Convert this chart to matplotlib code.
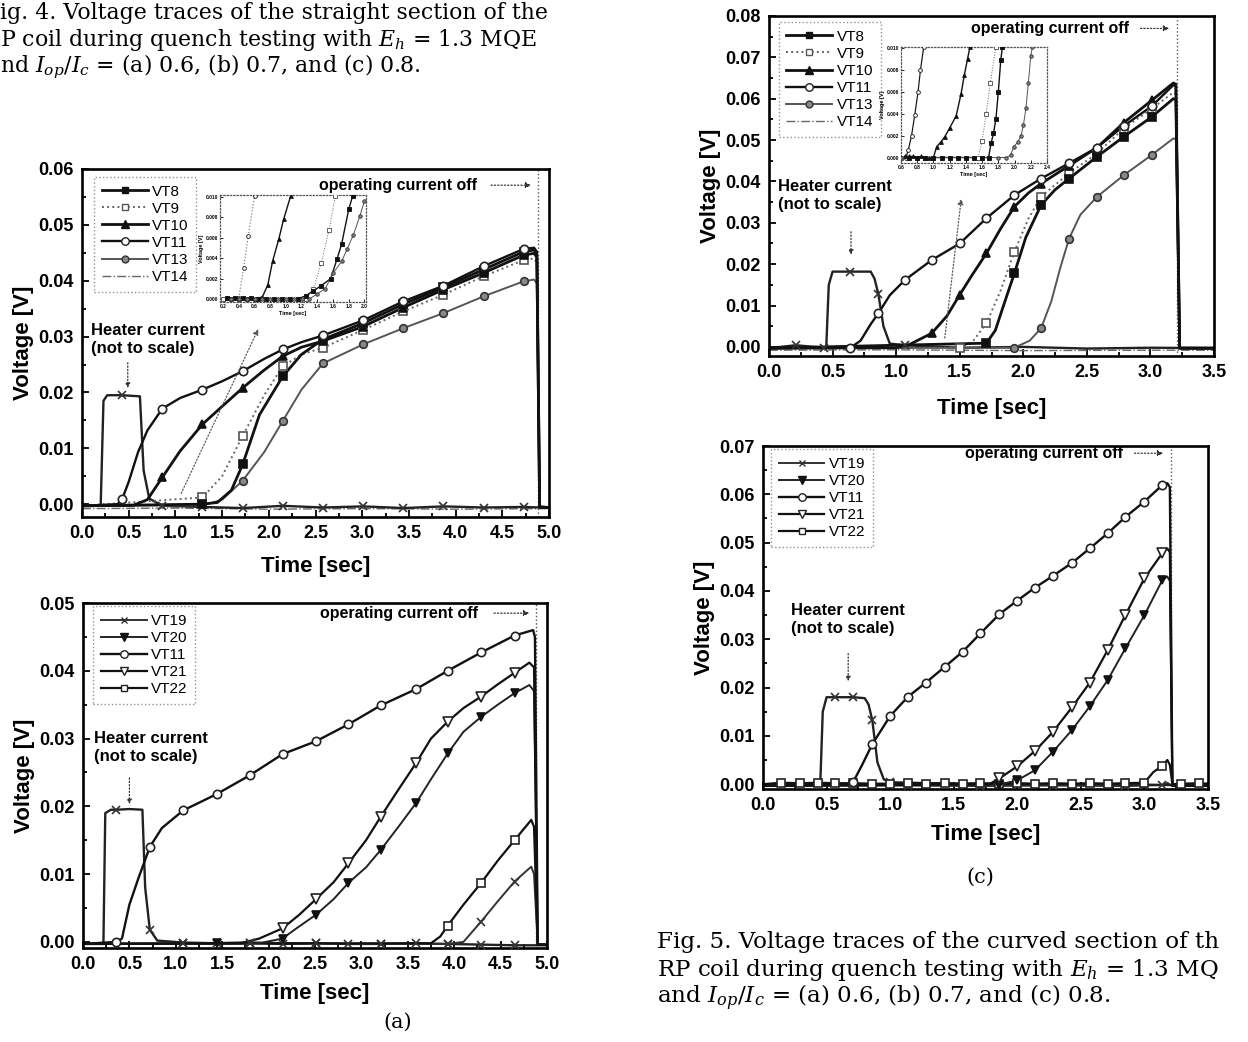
import matplotlib
matplotlib.use('Agg')
import matplotlib.pyplot as plt
from matplotlib.lines import Line2D
from matplotlib.ticker import MultipleLocator, AutoMinorLocator, FormatStrFormatter

plt.rcParams['font.family'] = 'Liberation Sans'
plt.rcParams['mathtext.fontset'] = 'dejavuserif'

W, H = 1248, 1042

# ---------------- Fig.4 top panel (0 - 5 s) ----------------
grid_a = [0.43, 0.86, 1.29, 1.72, 2.15, 2.58, 3.01, 3.44, 3.87, 4.30, 4.73]
a_vt8_t = [0, 1.29, 1.45, 1.6, 1.72, 1.9, 2.15, 2.35, 2.58, 3.01, 3.44, 3.87, 4.30, 4.73, 4.84, 4.87, 4.90, 5.0]
a_vt8_v = [-0.0003, 0.0, 0.0003, 0.0025, 0.0071, 0.016, 0.0229, 0.0268, 0.0295, 0.0324, 0.0358, 0.0388, 0.0420, 0.0452, 0.0455, 0.0448, -0.0005, -0.0006]
a_vt9_t = [0, 1.29, 1.5, 1.72, 1.95, 2.15, 2.35, 2.58, 3.01, 3.44, 3.87, 4.30, 4.73, 4.84, 4.87, 4.90, 5.0]
a_vt9_v = [-0.0003, 0.0012, 0.005, 0.0122, 0.0195, 0.0247, 0.0268, 0.028, 0.0312, 0.0345, 0.0375, 0.0408, 0.0437, 0.0440, 0.0432, -0.0005, -0.0006]
a_vt10_t = [0, 0.55, 0.7, 0.86, 1.05, 1.29, 1.5, 1.72, 1.95, 2.15, 2.35, 2.58, 3.01, 3.44, 3.87, 4.30, 4.73, 4.84, 4.87, 4.90, 5.0]
a_vt10_v = [-0.0003, -0.0002, 0.0008, 0.0048, 0.0095, 0.0143, 0.0175, 0.0208, 0.024, 0.0265, 0.0281, 0.0292, 0.0318, 0.0352, 0.0384, 0.0414, 0.0446, 0.0449, 0.0442, -0.0005, -0.0006]
a_vt11_t = [0, 0.38, 0.43, 0.5, 0.6, 0.7, 0.86, 1.05, 1.29, 1.5, 1.72, 1.95, 2.15, 2.35, 2.58, 3.01, 3.44, 3.87, 4.30, 4.73, 4.84, 4.87, 4.90, 5.0]
a_vt11_v = [-0.0003, 0.0, 0.0009, 0.004, 0.0093, 0.0132, 0.0171, 0.019, 0.0205, 0.022, 0.0238, 0.026, 0.0277, 0.029, 0.0302, 0.0329, 0.0363, 0.0391, 0.0426, 0.0457, 0.0459, 0.0452, -0.0005, -0.0006]
a_vt13_t = [0, 1.3, 1.5, 1.72, 1.95, 2.15, 2.35, 2.58, 3.01, 3.44, 3.87, 4.30, 4.73, 4.84, 4.87, 4.90, 5.0]
a_vt13_v = [-0.0003, -0.0002, 0.0008, 0.0042, 0.0093, 0.0149, 0.0205, 0.0252, 0.0286, 0.0315, 0.0342, 0.0372, 0.0399, 0.0402, 0.0395, -0.0005, -0.0006]
a_vt14_t = [0, 1.0, 2.0, 3.0, 4.0, 5.0]
a_vt14_v = [-0.0008, -0.0007, -0.0009, -0.0008, -0.0009, -0.0008]
a_heat_t = [0, 0.2, 0.23, 0.27, 0.43, 0.62, 0.66, 0.72, 0.86, 1.29, 1.72, 2.15, 2.58, 3.01, 3.44, 3.87, 4.30, 4.73, 4.9, 5.0]
a_heat_v = [-0.0003, -0.0003, 0.0185, 0.0195, 0.0195, 0.0193, 0.006, 0.001, -0.0003, -0.0005, -0.0007, -0.0003, -0.0006, -0.0004, -0.0007, -0.0004, -0.0006, -0.0005, -0.0006, -0.0006]

# inset of the top-left panel
ia_vt11_t = [0.2, 0.4, 0.46, 0.52, 0.6]
ia_vt11_v = [0.0, 0.0001, 0.003, 0.0062, 0.0101]
ia_vt10_t = [0.2, 0.3, 0.4, 0.5, 0.6, 0.7, 0.77, 0.83, 0.91, 0.97, 1.06]
ia_vt10_v = [0.0, 0.0, 0.0, 0.0, 0.0, 0.0002, 0.0014, 0.0037, 0.0059, 0.0078, 0.0101]
ia_vt9_t = [0.2, 1.25, 1.35, 1.45, 1.55, 1.63]
ia_vt9_v = [0.0, 0.0, 0.001, 0.0035, 0.0068, 0.0101]
ia_vt8_t = [0.25, 0.35, 0.45, 0.55, 0.65, 0.75, 0.85, 0.95, 1.05, 1.15, 1.25, 1.35, 1.45, 1.57, 1.65, 1.71, 1.8, 1.85]
ia_vt8_v = [0.0001, 0.0001, 0.0001, 0.0001, 0.0, 0.0, 0.0, 0.0, 0.0, 0.0, 0.0003, 0.0008, 0.0013, 0.002, 0.0039, 0.0054, 0.0088, 0.0101]
ia_vt13_t = [0.3, 0.4, 0.5, 0.6, 0.7, 0.8, 0.9, 1.0, 1.1, 1.2, 1.3, 1.4, 1.5, 1.6, 1.71, 1.78, 1.86, 1.94, 2.0]
ia_vt13_v = [0.0, 0.0, 0.0, 0.0, 0.0, 0.0, 0.0, 0.0, 0.0, 0.0, 0.0, 0.0005, 0.001, 0.0025, 0.0037, 0.0049, 0.0063, 0.0081, 0.0096]

# ---------------- Fig.4 bottom panel (a) ----------------
grid_c = [0.36, 0.72, 1.08, 1.44, 1.80, 2.15, 2.51, 2.86, 3.21, 3.59, 3.93, 4.29, 4.65]
c_vt19_t = [0, 1.08, 1.80, 2.51, 3.21, 3.93, 4.1, 4.29, 4.47, 4.65, 4.83, 4.86, 4.9, 5.0]
c_vt19_v = [-0.0003, -0.0002, -0.0001, -0.0002, -0.0003, -0.0003, 0.0, 0.003, 0.006, 0.0089, 0.0111, 0.010, -0.0004, -0.0004]
c_vt20_t = [0, 1.44, 1.9, 2.15, 2.3, 2.51, 2.7, 2.86, 3.05, 3.21, 3.4, 3.59, 3.75, 3.93, 4.1, 4.29, 4.47, 4.65, 4.81, 4.86, 4.9, 5.0]
c_vt20_v = [-0.0003, -0.0002, -0.0002, 0.0005, 0.002, 0.004, 0.0063, 0.0087, 0.011, 0.0136, 0.017, 0.0205, 0.024, 0.0278, 0.031, 0.0332, 0.035, 0.0367, 0.0379, 0.037, -0.0004, -0.0004]
c_vt11_t = [0, 0.36, 0.42, 0.5, 0.6, 0.72, 0.85, 1.08, 1.44, 1.80, 2.15, 2.51, 2.86, 3.21, 3.59, 3.93, 4.29, 4.65, 4.85, 4.87, 4.9, 5.0]
c_vt11_v = [-0.0003, 0.0, 0.0005, 0.0055, 0.0095, 0.014, 0.0168, 0.0194, 0.0218, 0.0246, 0.0277, 0.0296, 0.0321, 0.0349, 0.0373, 0.040, 0.0427, 0.0452, 0.046, 0.045, -0.0004, -0.0004]
c_vt21_t = [0, 1.7, 1.9, 2.15, 2.33, 2.51, 2.7, 2.86, 3.05, 3.21, 3.4, 3.59, 3.75, 3.93, 4.1, 4.29, 4.47, 4.65, 4.81, 4.86, 4.9, 5.0]
c_vt21_v = [-0.0003, -0.0002, 0.0005, 0.002, 0.004, 0.0063, 0.0088, 0.0116, 0.015, 0.0185, 0.0225, 0.0264, 0.030, 0.0325, 0.0345, 0.0362, 0.038, 0.0397, 0.0412, 0.0405, -0.0004, -0.0004]
c_vt22_t = [0, 3.75, 3.85, 3.93, 4.1, 4.29, 4.47, 4.65, 4.83, 4.86, 4.9, 5.0]
c_vt22_v = [-0.0003, -0.0002, 0.0008, 0.0024, 0.0055, 0.0087, 0.012, 0.015, 0.018, 0.017, -0.0004, -0.0004]
c_heat_t = [0, 0.22, 0.24, 0.3, 0.36, 0.5, 0.64, 0.67, 0.72, 0.8, 1.08, 1.44, 1.80, 2.15, 2.51, 2.86, 3.21, 3.59, 3.93, 4.29, 4.65, 5.0]
c_heat_v = [-0.0003, -0.0003, 0.019, 0.0195, 0.0195, 0.0196, 0.0195, 0.008, 0.0018, 0.0002, -0.0001, -0.0002, -0.0001, -0.0003, -0.0002, -0.0003, -0.0003, -0.0002, -0.0003, -0.0004, -0.0005, -0.0005]

# ---------------- Fig.5 top panel (0 - 3.5 s) ----------------
grid_b = [0.21, 0.43, 0.64, 0.86, 1.07, 1.28, 1.5, 1.71, 1.93, 2.14, 2.36, 2.58, 2.79, 3.01]
b_vt8_t = [0, 1.71, 1.78, 1.85, 1.93, 2.02, 2.14, 2.25, 2.36, 2.58, 2.79, 3.01, 3.18, 3.20, 3.23, 3.5]
b_vt8_v = [-0.0003, 0.0009, 0.004, 0.0105, 0.0178, 0.0265, 0.0343, 0.038, 0.0407, 0.046, 0.0508, 0.0556, 0.060, 0.0598, -0.0003, -0.0003]
b_vt9_t = [0, 1.5, 1.6, 1.71, 1.82, 1.93, 2.04, 2.14, 2.36, 2.58, 2.79, 3.01, 3.18, 3.20, 3.23, 3.5]
b_vt9_v = [-0.0003, -0.0002, 0.0012, 0.0057, 0.0135, 0.023, 0.031, 0.0363, 0.042, 0.0468, 0.0528, 0.0576, 0.0615, 0.0612, -0.0003, -0.0003]
b_vt10_t = [0, 1.0, 1.1, 1.28, 1.4, 1.5, 1.6, 1.71, 1.82, 1.93, 2.04, 2.14, 2.36, 2.58, 2.79, 3.01, 3.18, 3.20, 3.23, 3.5]
b_vt10_v = [-0.0003, -0.0002, 0.0005, 0.0033, 0.0075, 0.0126, 0.0175, 0.0226, 0.0285, 0.0339, 0.0372, 0.0395, 0.0438, 0.0482, 0.0542, 0.0596, 0.0638, 0.0635, -0.0003, -0.0003]
b_vt11_t = [0, 0.64, 0.72, 0.8, 0.86, 0.95, 1.07, 1.28, 1.5, 1.71, 1.93, 2.14, 2.36, 2.58, 2.79, 3.01, 3.18, 3.20, 3.23, 3.5]
b_vt11_v = [-0.0003, -0.0002, 0.0015, 0.0055, 0.0081, 0.0125, 0.0162, 0.021, 0.025, 0.0311, 0.0367, 0.0407, 0.0444, 0.0482, 0.0534, 0.0582, 0.0633, 0.063, -0.0003, -0.0003]
b_vt13_t = [0, 1.93, 2.05, 2.14, 2.22, 2.29, 2.36, 2.45, 2.58, 2.79, 3.01, 3.18, 3.20, 3.23, 3.5]
b_vt13_v = [-0.0003, -0.0002, 0.0015, 0.0045, 0.011, 0.019, 0.0262, 0.032, 0.0363, 0.0415, 0.0464, 0.0504, 0.0502, -0.0003, -0.0003]
b_vt14_t = [0, 1.0, 2.0, 3.0, 3.5]
b_vt14_v = [-0.0008, -0.0007, -0.0009, -0.0008, -0.0008]
b_heat_t = [0, 0.21, 0.43, 0.45, 0.47, 0.5, 0.64, 0.8, 0.83, 0.86, 0.9, 0.95, 1.07, 1.5, 2.0, 2.5, 3.0, 3.5]
b_heat_v = [-0.0003, 0.0004, -0.0002, -0.0003, 0.015, 0.0182, 0.0182, 0.0182, 0.0165, 0.0128, 0.005, 0.0008, 0.0004, -0.0002, 0.0, -0.0004, -0.0002, -0.0003]

# inset of the top-right panel
ib_vt11_t = [0.6, 0.66, 0.69, 0.73, 0.77, 0.81, 0.84, 0.88]
ib_vt11_v = [0.0, 0.0, 0.0007, 0.002, 0.0039, 0.006, 0.008, 0.0101]
ib_vt10_t = [0.65, 0.7, 0.75, 0.8, 0.85, 0.9, 0.95, 1.0, 1.04, 1.09, 1.14, 1.2, 1.28, 1.34, 1.38, 1.42, 1.45]
ib_vt10_v = [0.0001, 0.0001, 0.0001, 0.0, 0.0001, 0.0, 0.0, 0.0, 0.001, 0.0014, 0.0019, 0.0027, 0.0038, 0.0058, 0.0075, 0.009, 0.0101]
ib_vt9_t = [0.6, 1.55, 1.6, 1.65, 1.7, 1.77]
ib_vt9_v = [0.0, 0.0, 0.0015, 0.004, 0.0068, 0.0101]
ib_vt8_t = [0.7, 0.8, 0.9, 1.0, 1.1, 1.2, 1.3, 1.4, 1.5, 1.6, 1.68, 1.71, 1.74, 1.77, 1.8, 1.83, 1.85]
ib_vt8_v = [0.0, 0.0, 0.0, 0.0, 0.0, 0.0, 0.0, 0.0, 0.0, 0.0, 0.0, 0.0013, 0.0022, 0.0035, 0.006, 0.0089, 0.0101]
ib_vt13_t = [0.6, 1.8, 1.9, 1.95, 1.99, 2.04, 2.08, 2.11, 2.14, 2.17, 2.2, 2.22]
ib_vt13_v = [0.0, 0.0, 0.0, 0.0002, 0.001, 0.0014, 0.002, 0.003, 0.0045, 0.0068, 0.0093, 0.0101]

# ---------------- Fig.5 bottom panel (c) ----------------
grid_d = [0.14, 0.29, 0.43, 0.57, 0.71, 0.86, 1.0, 1.14, 1.28, 1.43, 1.57, 1.71, 1.86, 2.0, 2.14,
          2.28, 2.43, 2.57, 2.71, 2.85, 3.0, 3.14, 3.29, 3.43]
d_vt11_t = [0, 0.64, 0.71, 0.78, 0.86, 1.0, 1.14, 1.28, 1.43, 1.57, 1.71, 1.86, 2.0, 2.14, 2.28, 2.43, 2.57, 2.71, 2.85, 3.0, 3.14, 3.18, 3.2, 3.22, 3.5]
d_vt11_v = [-0.0003, -0.0001, 0.0005, 0.004, 0.0083, 0.0141, 0.0181, 0.021, 0.0243, 0.0274, 0.0312, 0.0352, 0.038, 0.0407, 0.0431, 0.0458, 0.0488, 0.0519, 0.0553, 0.0585, 0.0619, 0.0623, 0.0615, -0.0003, -0.0003]
d_vt20_t = [0, 1.86, 2.0, 2.14, 2.28, 2.43, 2.57, 2.71, 2.85, 3.0, 3.14, 3.18, 3.2, 3.22, 3.5]
d_vt20_v = [-0.0003, -0.0001, 0.0008, 0.0029, 0.0067, 0.0112, 0.0161, 0.0215, 0.0281, 0.035, 0.0422, 0.043, 0.042, -0.0003, -0.0003]
d_vt21_t = [0, 1.78, 1.86, 2.0, 2.14, 2.28, 2.43, 2.57, 2.71, 2.85, 3.0, 3.14, 3.18, 3.2, 3.22, 3.5]
d_vt21_v = [-0.0003, 0.0, 0.0012, 0.0037, 0.0069, 0.0108, 0.0159, 0.021, 0.0277, 0.035, 0.0426, 0.0478, 0.0488, 0.048, -0.0003, -0.0003]
d_vt22_t = [0, 0.14, 0.29, 0.43, 0.57, 0.71, 0.86, 1.0, 1.14, 1.28, 1.43, 1.57, 1.71, 1.86, 2.0, 2.14, 2.28,
            2.43, 2.57, 2.71, 2.85, 3.0, 3.07, 3.14, 3.18, 3.2, 3.22, 3.29, 3.43, 3.5]
d_vt22_v = [0.0, 0.0003, 0.0002, 0.0003, 0.0002, 0.0002, 0.0001, 0.0001, 0.0002, 0.0001, 0.0002, 0.0001, 0.0002,
            0.0001, 0.0002, 0.0001, 0.0002, 0.0001, 0.0002, 0.0001, 0.0002, 0.0003, 0.0025, 0.0038, 0.005, 0.004,
            0.0, 0.0001, 0.0002, 0.0001]
d_vt19_t = [0, 1.14, 1.71, 2.28, 2.85, 3.14, 3.18, 3.22, 3.5]
d_vt19_v = [-0.0004, -0.0003, -0.0004, -0.0003, -0.0004, -0.0002, 0.0003, -0.0004, -0.0004]
d_heat_t = [0, 0.45, 0.47, 0.5, 0.57, 0.71, 0.8, 0.83, 0.86, 0.9, 0.95, 1.0, 1.14, 1.5, 2.0, 2.5, 3.0, 3.5]
d_heat_v = [-0.0003, -0.0003, 0.015, 0.018, 0.018, 0.018, 0.0178, 0.0165, 0.0132, 0.0045, 0.001, 0.0004, 0.0003, 0.0001, 0.0, 0.0, -0.0001, -0.0003]

STY = {
    'VT8':  dict(c='#111111', ls='-', lw=2.0, m='s', mfc='#111111', mec='#111111', ms=5.5),
    'VT9':  dict(c='#666666', ls=':', lw=1.4, m='s', mfc='white', mec='#555555', ms=5.5),
    'VT10': dict(c='#111111', ls='-', lw=2.0, m='^', mfc='#111111', mec='#111111', ms=6),
    'VT11': dict(c='#111111', ls='-', lw=1.7, m='o', mfc='white', mec='#222222', ms=6),
    'VT13': dict(c='#555555', ls='-', lw=1.4, m='o', mfc='#888888', mec='#333333', ms=5.5),
    'VT14': dict(c='#666666', ls='-.', lw=1.0, m='None', mfc='none', mec='#666666', ms=5),
    'VT19': dict(c='#333333', ls='-', lw=1.4, m='x', mfc='#333333', mec='#333333', ms=5.5),
    'VT20': dict(c='#222222', ls='-', lw=1.4, m='v', mfc='#111111', mec='#111111', ms=6),
    'VT21': dict(c='#111111', ls='-', lw=1.6, m='v', mfc='white', mec='#222222', ms=6.5),
    'VT22': dict(c='#111111', ls='-', lw=1.6, m='s', mfc='white', mec='#222222', ms=5.5),
    'heat': dict(c='#222222', ls='-', lw=1.7, m='x', mfc='#333333', mec='#333333', ms=5.5),
}


def rect(x0, y0, x1, y1):
    return [x0 / W, 1 - y1 / H, (x1 - x0) / W, (y1 - y0) / H]


def draw(ax, name, t, v, grid=None, ms_scale=1.0, lw_scale=1.0):
    st = STY[name]
    ax.plot(t, v, color=st['c'], ls=st['ls'], lw=st['lw'] * lw_scale, zorder=2)
    if st['m'] == 'None':
        return
    if grid is None:
        idx = list(range(len(t)))
    else:
        idx = [i for i, x in enumerate(t) if round(x, 2) in grid]
    ax.plot([t[i] for i in idx], [v[i] for i in idx], ls='none', marker=st['m'],
            ms=st['ms'] * ms_scale, mfc=st['mfc'], mec=st['mec'], mew=1.0 * ms_scale + 0.2, zorder=3)


def frame(ax, xmax, ylim, ystep, xpad=10, ypad=3):
    ax.set_xlim(0, xmax)
    ax.set_ylim(*ylim)
    ax.xaxis.set_major_locator(MultipleLocator(0.5))
    ax.xaxis.set_minor_locator(AutoMinorLocator(2))
    ax.yaxis.set_major_locator(MultipleLocator(ystep))
    ax.yaxis.set_minor_locator(AutoMinorLocator(2))
    ax.xaxis.set_major_formatter(FormatStrFormatter('%.1f'))
    ax.yaxis.set_major_formatter(FormatStrFormatter('%.2f'))
    ax.tick_params(which='both', direction='in', top=False, right=False, width=1.3)
    ax.tick_params(which='major', length=5, labelsize=13, pad=6)
    ax.tick_params(which='minor', length=3)
    for lab in ax.get_xticklabels() + ax.get_yticklabels():
        lab.set_fontweight('bold')
    for s in ax.spines.values():
        s.set_linewidth(1.9)
    ax.set_xlabel('Time [sec]', fontsize=16, fontweight='bold', labelpad=xpad)
    ax.set_ylabel('Voltage [V]', fontsize=16, fontweight='bold', labelpad=ypad)


def legend(ax, names, anchor):
    handles = []
    for n in names:
        st = STY[n]
        handles.append(Line2D([], [], color=st['c'], ls=st['ls'], lw=st['lw'], marker=st['m'],
                              ms=st['ms'] * 0.9, mfc=st['mfc'], mec=st['mec'], label=n))
    leg = ax.legend(handles=handles, loc='upper left', bbox_to_anchor=anchor, fontsize=11,
                    frameon=True, fancybox=False, edgecolor='#777777', handlelength=3.0,
                    handletextpad=0.3, labelspacing=0.2, borderpad=0.5, borderaxespad=0)
    leg.get_frame().set_linestyle(':')
    leg.get_frame().set_linewidth(1.0)


def notes(ax, xt, yt, xoff, xarr, tv, ha_x, ha_y):
    ax.text(xt, yt, 'operating current off', fontsize=11.5, fontweight='bold', va='center', ha='left')
    ax.annotate('', xy=(xoff - 0.04, yt), xytext=(xarr, yt),
                arrowprops=dict(arrowstyle='-|>', ls=':', color='#333333', lw=0.9, mutation_scale=8))
    ax.axvline(xoff, ls=':', color='#555555', lw=1.0, zorder=1)
    ax.text(ha_x, ha_y, 'Heater current\n(not to scale)', fontsize=12, fontweight='bold',
            va='center', ha='left', linespacing=1.25)
    ax.annotate('', xy=(tv[0], tv[2]), xytext=(tv[0], tv[1]),
                arrowprops=dict(arrowstyle='-|>', ls=':', color='#333333', lw=0.9, mutation_scale=7))


def inset(ax, xlim, ylim, xstep):
    ax.set_xlim(*xlim)
    ax.set_ylim(*ylim)
    ax.xaxis.set_major_locator(MultipleLocator(xstep))
    ax.yaxis.set_major_locator(MultipleLocator(0.002))
    ax.xaxis.set_major_formatter(FormatStrFormatter('%.1f'))
    ax.yaxis.set_major_formatter(FormatStrFormatter('%.3f'))
    ax.tick_params(direction='in', length=2, width=0.6, labelsize=3.5, pad=1.5)
    for lab in ax.get_xticklabels() + ax.get_yticklabels():
        lab.set_fontweight('bold')
    for s in ax.spines.values():
        s.set_linestyle(':')
        s.set_linewidth(0.9)
        s.set_edgecolor('#555555')
    ax.set_xlabel('Time [sec]', fontsize=4, fontweight='bold', labelpad=1.5)
    ax.set_ylabel('Voltage [V]', fontsize=4, fontweight='bold', labelpad=1)


fig = plt.figure(figsize=(W / 100, H / 100), dpi=100)

# ---- top-left ----
axA = fig.add_axes(rect(82, 169, 549, 517))
draw(axA, 'VT14', a_vt14_t, a_vt14_v)
draw(axA, 'heat', a_heat_t, a_heat_v, grid_a)
draw(axA, 'VT13', a_vt13_t, a_vt13_v, grid_a)
draw(axA, 'VT9', a_vt9_t, a_vt9_v, grid_a)
draw(axA, 'VT8', a_vt8_t, a_vt8_v, grid_a)
draw(axA, 'VT10', a_vt10_t, a_vt10_v, grid_a)
draw(axA, 'VT11', a_vt11_t, a_vt11_v, grid_a)
frame(axA, 5.0, (-0.0023, 0.06), 0.01)
legend(axA, ['VT8', 'VT9', 'VT10', 'VT11', 'VT13', 'VT14'], (0.026, 0.977))
notes(axA, 2.54, 0.0571, 4.88, 4.35, (0.49, 0.0258, 0.0203), 0.1, 0.0294)
axA.annotate('', xy=(1.9, 0.0318), xytext=(1.05, 0.0015),
             arrowprops=dict(arrowstyle='-|>', ls=':', color='#555555', lw=0.9, mutation_scale=8))

insA = fig.add_axes(rect(220, 195, 366, 302))
for n, t, v in [('VT11', ia_vt11_t, ia_vt11_v), ('VT10', ia_vt10_t, ia_vt10_v), ('VT9', ia_vt9_t, ia_vt9_v),
                ('VT8', ia_vt8_t, ia_vt8_v), ('VT13', ia_vt13_t, ia_vt13_v)]:
    draw(insA, n, t, v, None, ms_scale=0.45, lw_scale=0.5)
insA.get_lines()[0].set_linestyle(':')
insA.get_lines()[0].set_color('#777777')
inset(insA, (0.16, 2.02), (-0.0003, 0.0102), 0.2)

# ---- bottom-left (a) ----
axC = fig.add_axes(rect(83, 603, 547, 948))
draw(axC, 'heat', c_heat_t, c_heat_v, grid_c)
draw(axC, 'VT19', c_vt19_t, c_vt19_v, grid_c)
draw(axC, 'VT22', c_vt22_t, c_vt22_v, grid_c)
draw(axC, 'VT20', c_vt20_t, c_vt20_v, grid_c)
draw(axC, 'VT21', c_vt21_t, c_vt21_v, grid_c)
draw(axC, 'VT11', c_vt11_t, c_vt11_v, grid_c)
frame(axC, 5.0, (-0.0009, 0.05), 0.01, xpad=7)
legend(axC, ['VT19', 'VT20', 'VT11', 'VT21', 'VT22'], (0.022, 0.99))
notes(axC, 2.55, 0.0485, 4.88, 4.4, (0.5, 0.0246, 0.0199), 0.12, 0.0287)

# ---- top-right ----
axB = fig.add_axes(rect(769, 16, 1214, 356))
draw(axB, 'VT14', b_vt14_t, b_vt14_v)
draw(axB, 'heat', b_heat_t, b_heat_v, grid_b)
draw(axB, 'VT13', b_vt13_t, b_vt13_v, grid_b)
draw(axB, 'VT9', b_vt9_t, b_vt9_v, grid_b)
draw(axB, 'VT8', b_vt8_t, b_vt8_v, grid_b)
draw(axB, 'VT10', b_vt10_t, b_vt10_v, grid_b)
draw(axB, 'VT11', b_vt11_t, b_vt11_v, grid_b)
frame(axB, 3.5, (-0.0022, 0.08), 0.01, xpad=12)
legend(axB, ['VT8', 'VT9', 'VT10', 'VT11', 'VT13', 'VT14'], (0.022, 0.982))
notes(axB, 1.59, 0.077, 3.21, 2.9, (0.645, 0.0285, 0.0216), 0.07, 0.0365)
axB.annotate('', xy=(1.515, 0.0365), xytext=(1.38, 0.0015),
             arrowprops=dict(arrowstyle='-|>', ls=':', color='#555555', lw=0.9, mutation_scale=8))

insB = fig.add_axes(rect(901, 47, 1047, 163))
for n, t, v in [('VT11', ib_vt11_t, ib_vt11_v), ('VT10', ib_vt10_t, ib_vt10_v), ('VT9', ib_vt9_t, ib_vt9_v),
                ('VT8', ib_vt8_t, ib_vt8_v), ('VT13', ib_vt13_t, ib_vt13_v)]:
    draw(insB, n, t, v, None, ms_scale=0.45, lw_scale=0.5)
inset(insB, (0.6, 2.4), (-0.0005, 0.0101), 0.2)

# ---- bottom-right (c) ----
axD = fig.add_axes(rect(763, 446, 1208, 789))
draw(axD, 'VT19', d_vt19_t, d_vt19_v, grid_d)
draw(axD, 'heat', d_heat_t, d_heat_v, grid_d)
draw(axD, 'VT22', d_vt22_t, d_vt22_v, grid_d)
draw(axD, 'VT20', d_vt20_t, d_vt20_v, grid_d)
draw(axD, 'VT21', d_vt21_t, d_vt21_v, grid_d)
draw(axD, 'VT11', d_vt11_t, d_vt11_v, grid_d)
frame(axD, 3.5, (-0.001, 0.07), 0.01, xpad=7)
legend(axD, ['VT19', 'VT20', 'VT11', 'VT21', 'VT22'], (0.018, 0.99))
notes(axD, 1.59, 0.0685, 3.21, 2.9, (0.67, 0.0276, 0.0207), 0.22, 0.034)

# ---- captions ----
cap = dict(family='DejaVu Serif', fontsize=15.8, va='center', ha='left')
fig.text(0 / W, 1 - 13 / H, 'ig. 4. Voltage traces of the straight section of the', **cap)
fig.text(0 / W, 1 - 40 / H, 'P coil during quench testing with $E_h$ = 1.3 MQE', **cap)
fig.text(0 / W, 1 - 67 / H, 'nd $I_{op}/I_c$ = (a) 0.6, (b) 0.7, and (c) 0.8.', **cap)
cap5 = dict(family='DejaVu Serif', fontsize=16.6, va='center', ha='left')
fig.text(657 / W, 1 - 942 / H, 'Fig. 5. Voltage traces of the curved section of th', **cap5)
fig.text(657 / W, 1 - 970 / H, 'RP coil during quench testing with $E_h$ = 1.3 MQ', **cap5)
fig.text(657 / W, 1 - 998 / H, 'and $I_{op}/I_c$ = (a) 0.6, (b) 0.7, and (c) 0.8.', **cap5)
fig.text(398 / W, 1 - 1022 / H, '(a)', family='DejaVu Serif', fontsize=15, va='center', ha='center')
fig.text(980 / W, 1 - 877 / H, '(c)', family='DejaVu Serif', fontsize=15, va='center', ha='center')

fig.savefig('out.png', dpi=100)
